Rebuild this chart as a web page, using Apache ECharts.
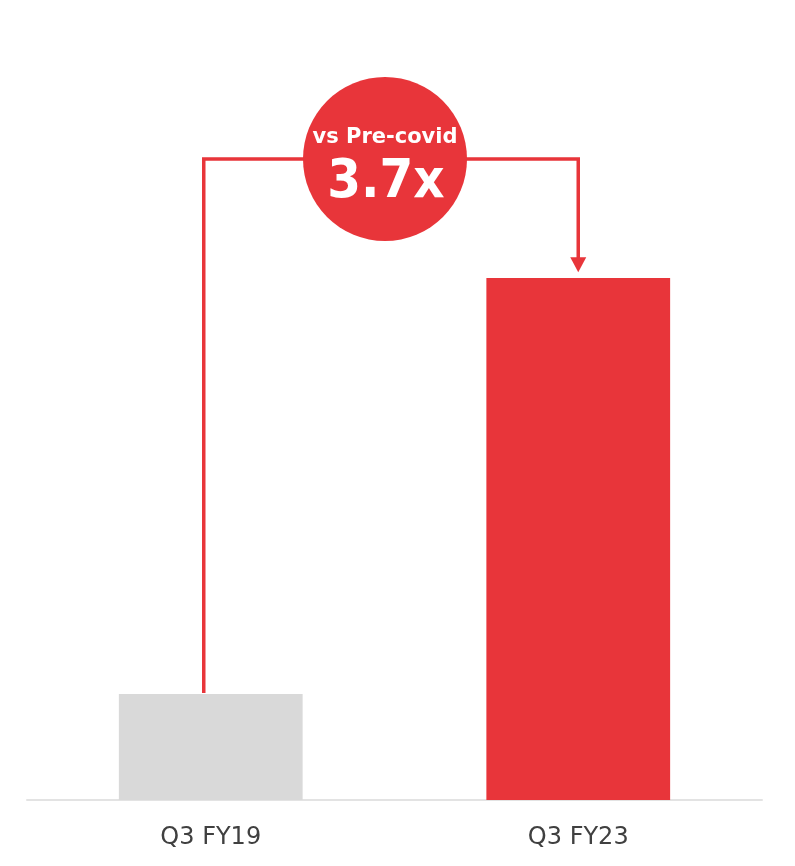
<!DOCTYPE html>
<html>
<head>
<meta charset="utf-8">
<script src="https://cdn.jsdelivr.net/npm/echarts@6/dist/echarts.min.js"></script>
<style>
  html, body { margin: 0; padding: 0; background: #fff; }
  #container { width: 795px; height: 866px; }
</style>
</head>
<body>
<div id="container"></div>
<script>
// data
var categories = ['Q3 FY19', 'Q3 FY23'];
var values = [20.3, 100];
var barColors = ['#D9D9D9', '#E8353A'];
var badgeTitle = 'vs Pre-covid';
var badgeValue = '3.7x';
var bracketLevel = 122.8;   // height of the connector, in axis units
var arrowEnd = 101.1;       // where the arrow tip stops

var red = '#E8353A';
var dom = document.getElementById('container');
var myChart = echarts.init(dom, null, { renderer: 'canvas' });

var option = {
  animation: false,
  grid: { left: 27, right: 33, top: 17, bottom: 66 },
  xAxis: {
    type: 'category',
    data: categories,
    axisLine: { lineStyle: { color: '#E3E3E3', width: 2 } },
    axisTick: { show: false },
    axisLabel: {
      margin: 26,
      fontSize: 24,
      color: '#404040',
      fontFamily: 'DejaVu Sans'
    }
  },
  yAxis: {
    type: 'value',
    min: 0,
    max: 150,
    show: false,
    splitLine: { show: false }
  },
  series: [{
    type: 'bar',
    barWidth: '50%',
    data: values.map(function (v, i) {
      return { value: v, itemStyle: { color: barColors[i] } };
    })
  }]
};
myChart.setOption(option);

// connector + badge, placed from the data coordinates
var pStart = myChart.convertToPixel({ seriesIndex: 0 }, [0, values[0]]);
var pTopL = myChart.convertToPixel({ seriesIndex: 0 }, [0, bracketLevel]);
var pTopR = myChart.convertToPixel({ seriesIndex: 0 }, [1, bracketLevel]);
var pTip = myChart.convertToPixel({ seriesIndex: 0 }, [1, arrowEnd]);
var xL = pStart[0] - 7;
var xR = pTopR[0];
var yTop = pTopL[1];
var cx = (xL + xR) / 2 - 6;

myChart.setOption({
  graphic: [
    {
      type: 'polyline',
      shape: { points: [[xL, pStart[1] - 1], [xL, yTop], [xR, yTop], [xR, pTip[1] - 14]] },
      style: { stroke: red, lineWidth: 3.5, fill: null }
    },
    {
      type: 'polygon',
      shape: { points: [[xR - 8, pTip[1] - 15], [xR + 8, pTip[1] - 15], [xR, pTip[1]]] },
      style: { fill: red }
    },
    {
      type: 'circle',
      shape: { cx: cx, cy: yTop, r: 82 },
      style: { fill: red }
    },
    {
      type: 'text',
      x: cx, y: yTop - 11,
      style: {
        text: badgeTitle, fill: '#fff', font: 'bold 21px "DejaVu Sans"',
        align: 'center', verticalAlign: 'bottom'
      }
    },
    {
      type: 'text',
      x: cx + 1, y: yTop + 24,
      style: {
        text: badgeValue, fill: '#fff', font: 'bold 54px "DejaVu Sans Condensed"',
        align: 'center', verticalAlign: 'middle'
      }
    }
  ]
});

window.addEventListener('resize', function () {
  myChart.resize();
});
</script>
</body>
</html>
